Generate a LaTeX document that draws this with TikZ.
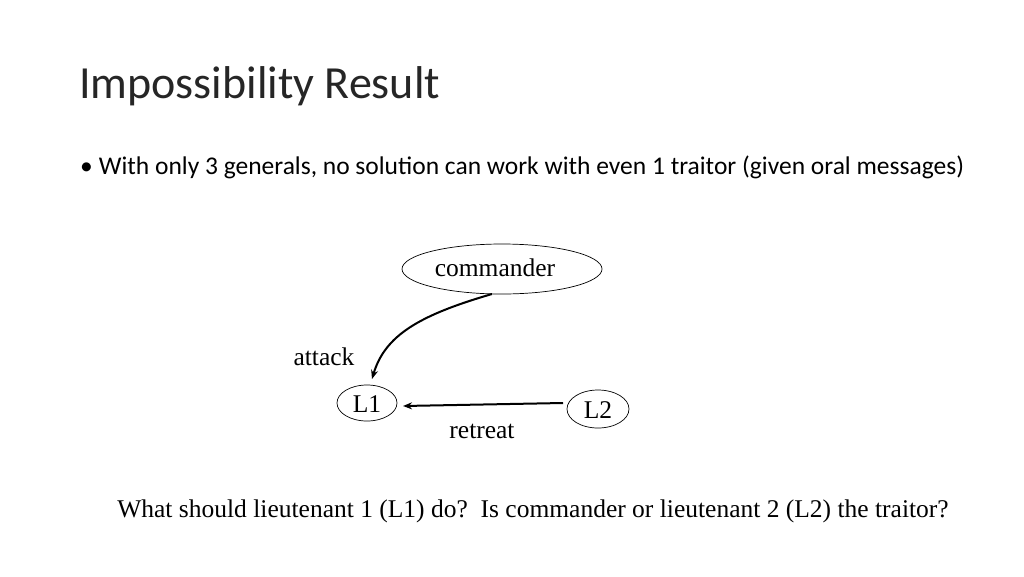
\documentclass[tikz,border=0pt]{standalone}
\usepackage{fontspec}
\setmainfont{Liberation Serif}
\newfontfamily\calfont{Carlito}
\usetikzlibrary{shapes.geometric,arrows.meta}
\begin{document}
\begin{tikzpicture}[x=1pt,y=-1pt,
  ell/.style={draw,ellipse,inner sep=0pt,line width=0.7pt},
  tx/.style={font=\fontsize{25.5}{28}\selectfont,inner sep=0pt},
  arr/.style={-{Stealth[length=9pt,width=7pt]},line width=2pt}]
\useasboundingbox (0,0) rectangle (1024,576);
\node[anchor=west,inner sep=0pt,font=\calfont\fontsize{46}{50}\selectfont,text=black!85] (title) at (79,86) {Impossibility Result};
\node[anchor=west,inner sep=0pt,font=\calfont\fontsize{25.5}{28}\selectfont] (b) at (80,167) {•\hspace{6pt}With only 3 generals, no solution can work with even 1 traitor (given oral messages)};
\node[ell,minimum width=200pt,minimum height=50pt] (c) at (502,269) {};
\node[tx] (ct) at (495,268) {commander};
\node[ell,minimum width=60pt,minimum height=36pt] (l1) at (367,403) {};
\node[tx] (l1t) at (367,404) {L1};
\node[ell,minimum width=62pt,minimum height=38pt] (l2) at (598,409) {};
\node[tx] (l2t) at (598,410) {L2};
\coordinate (cs) at (492,294);
\coordinate (l1e) at (372,379);
\draw[arr] (cs) .. controls (420,315) and (385,335) .. (l1e);
\coordinate (l2s) at (563,403);
\coordinate (l1r) at (403,406);
\draw[arr] (l2s) -- (l1r);
\node[tx] (att) at (324,357) {attack};
\node[tx] (ret) at (482,431) {retreat};
\node[tx] (q) at (533,511) {What should lieutenant 1 (L1) do?\ \ Is commander or lieutenant 2 (L2) the traitor?};
\end{tikzpicture}
\end{document}
